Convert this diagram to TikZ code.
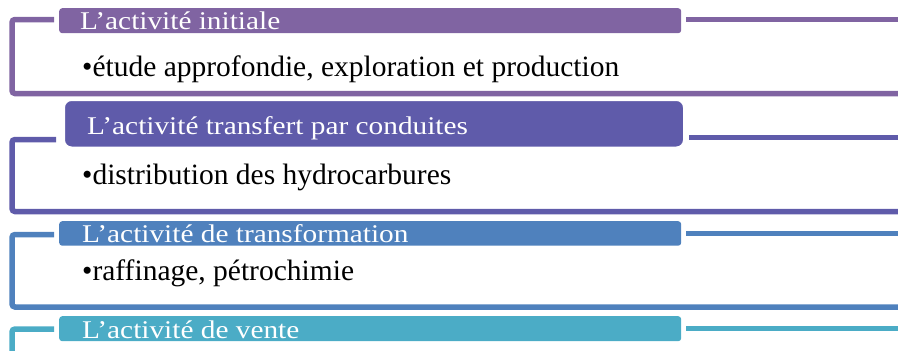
\documentclass[tikz,border=0pt]{standalone}
\usepackage{fontspec}
\setmainfont{Liberation Serif}
\newfontfamily\headfont[FakeStretch=1.15]{Liberation Serif}
\definecolor{cA}{HTML}{8064A2}
\definecolor{cB}{HTML}{5F5BAA}
\definecolor{cC}{HTML}{4F81BD}
\definecolor{cD}{HTML}{4BACC6}
\tikzset{
  bracket/.style={line width=5.5pt, rounded corners=3pt, line cap=butt},
  rail/.style={line width=5pt},
  headbar/.style={rectangle, rounded corners=3pt, inner sep=0pt, anchor=north west},
  headtext/.style={anchor=base west, inner sep=0pt, text=white,
    font=\headfont\fontsize{25.5}{26}\selectfont},
  bodytext/.style={anchor=base west, inner sep=0pt, text=black,
    font=\fontsize{29.5}{30}\selectfont},
}
\begin{document}
\begin{tikzpicture}[x=1pt,y=-1pt]
\useasboundingbox (0,0) rectangle (898,351);
\clip (0,0) rectangle (898,351);

% --- block 1: initial activity
\draw[bracket, cA] (54,19.5) -| (12,93.5) -- (900,93.5);
\node[headbar, fill=cA, minimum width=622pt, minimum height=25pt] (b1) at (59,8) {};
\draw[rail, cA] ([xshift=5pt]b1.east |- 0,19.5) -- (900,19.5);
\node[headtext] (t1) at (80,29) {L’activité initiale};
\node[bodytext] (d1) at (82,76) {•étude approfondie, exploration et production};

% --- block 2: pipeline transfer
\draw[bracket, cB] (56,139.5) -| (12,211.5) -- (900,211.5);
\node[headbar, fill=cB, draw=white, line width=3pt, rounded corners=8pt,
      minimum width=621pt, minimum height=48.5pt] (b2) at (62,98) {};
\draw[rail, cB] (689,137.5) -- (900,137.5);
\node[headtext] (t2) at (87,134) {L’activité transfert par conduites};
\node[bodytext] (d2) at (82,184) {•distribution des hydrocarbures};

% --- block 3: processing
\draw[bracket, cC] (54,234.5) -| (12,307) -- (900,307);
\node[headbar, fill=cC, minimum width=622pt, minimum height=24.5pt] (b3) at (59,221) {};
\draw[rail, cC] ([xshift=5pt]b3.east |- 0,233.5) -- (900,233.5);
\node[headtext] (t3) at (82,242) {L’activité de transformation};
\node[bodytext] (d3) at (82,280.5) {•raffinage, pétrochimie};

% --- block 4: sales
\draw[bracket, cD] (54,329) -| (12,360);
\node[headbar, fill=cD, minimum width=622pt, minimum height=25pt] (b4) at (59,316) {};
\draw[rail, cD] ([xshift=5pt]b4.east |- 0,328.5) -- (900,328.5);
\node[headtext] (t4) at (82,338) {L’activité de vente};
\end{tikzpicture}
\end{document}
